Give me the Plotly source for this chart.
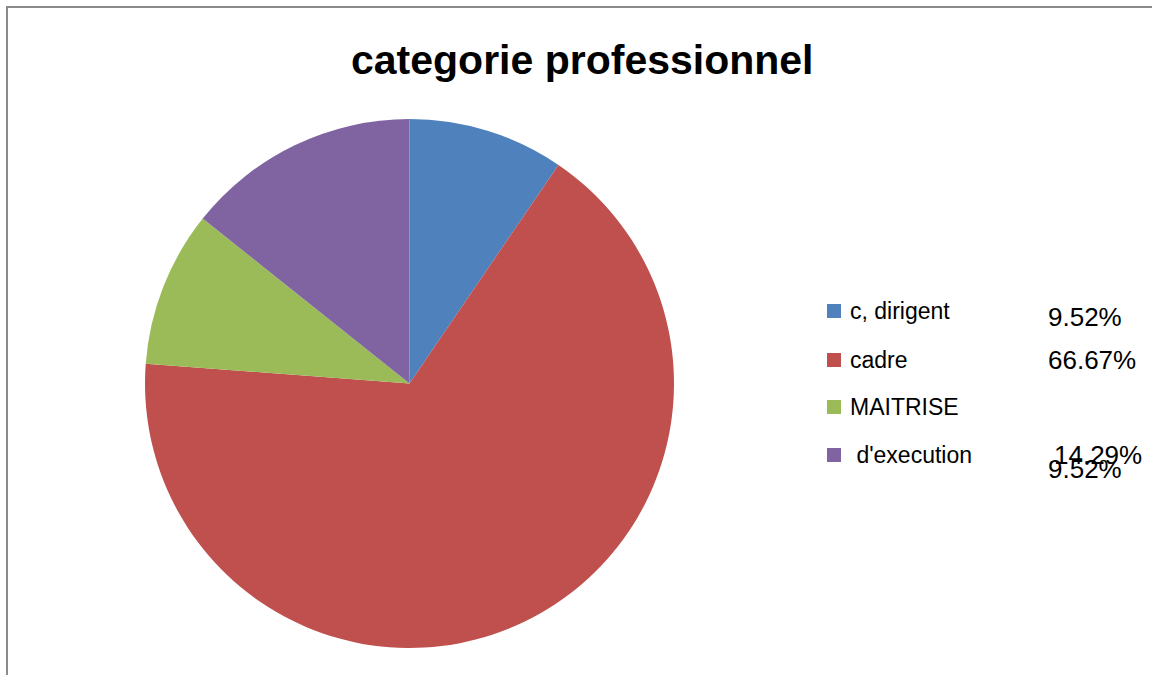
import plotly.graph_objects as go

W, H = 1152, 675

categories = ["c, dirigent", "cadre", "MAITRISE", " d'execution"]
values = [2, 14, 2, 3]
colors = ["#4F81BD", "#C0504D", "#9BBB59", "#8064A2"]
pct_labels = ["9.52%", "66.67%", "14.29%", "9.52%"]
title_text = "categorie professionnel"

def px(x):
    return x / W

def py(y):
    return 1 - y / H

fig = go.Figure()
fig.add_trace(go.Pie(
    labels=categories,
    values=values,
    marker=dict(colors=colors, line=dict(width=0)),
    sort=False,
    direction="clockwise",
    rotation=0,
    textinfo="none",
    hoverinfo="label+percent",
    showlegend=False,
    domain=dict(x=[px(145), px(674)], y=[py(648), py(119)]),
))

shapes = []
annotations = []

# border (left + top)
shapes.append(dict(type="path", xref="paper", yref="paper",
                   path=f"M {px(7)} {py(676)} L {px(7)} {py(7)} L {px(1153)} {py(7)}",
                   line=dict(color="#8a8a8a", width=2)))

# title
annotations.append(dict(text="<b>" + title_text + "</b>", x=px(582), y=py(60),
                        xref="paper", yref="paper",
                        showarrow=False, xanchor="center", yanchor="middle",
                        font=dict(family="Liberation Sans", size=41, color="#000000")))

# manual legend
legend_y = [311, 360, 407, 455]
for cat, col, yy in zip(categories, colors, legend_y):
    shapes.append(dict(type="rect", xref="paper", yref="paper",
                       x0=px(827), x1=px(841), y0=py(yy + 7), y1=py(yy - 7),
                       fillcolor=col, line=dict(width=0)))
    annotations.append(dict(text=cat.replace(" ", "&nbsp;", 1) if cat.startswith(" ") else cat,
                            x=px(848), y=py(yy), xref="paper", yref="paper",
                            showarrow=False, xanchor="left", yanchor="middle",
                            font=dict(family="Liberation Sans", size=23, color="#000000")))

# percentage labels (placed near legend as in original)
pct_pos = [(1046, 317), (1046, 360), (1052, 455), (1046, 469)]
for lab, (xx, yy) in zip(pct_labels, pct_pos):
    annotations.append(dict(text=lab, x=px(xx), y=py(yy), xref="paper", yref="paper",
                            showarrow=False, xanchor="left", yanchor="middle",
                            font=dict(family="Liberation Sans", size=26, color="#000000")))

fig.update_layout(
    width=W, height=H,
    margin=dict(l=0, r=0, t=0, b=0),
    paper_bgcolor="#FFFFFF",
    plot_bgcolor="#FFFFFF",
    shapes=shapes,
    annotations=annotations,
)

fig.write_html("out.html")
